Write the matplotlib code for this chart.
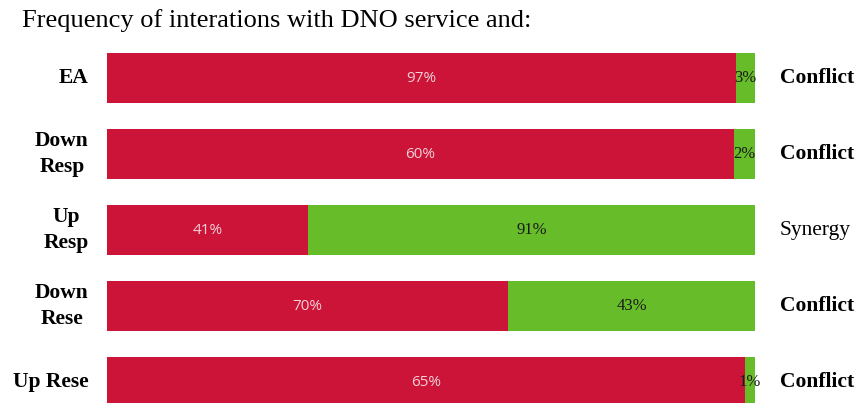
import matplotlib.pyplot as plt
import numpy as np

# interaction shares for each service vs the DNO service
services = ['EA', 'Down\nResp', 'Up\nResp', 'Down\nRese', 'Up Rese']
conflict = [97, 60, 41, 70, 65]
synergy = [3, 2, 91, 43, 1]
outcome = ['Conflict', 'Conflict', 'Synergy', 'Conflict', 'Conflict']

red = '#CC1439'
green = '#67BC2A'
serif = ['Liberation Serif', 'DejaVu Serif']
sans = ['Open Sans', 'DejaVu Sans']

fig = plt.figure(figsize=(8.57, 4.03), dpi=100)
ax = fig.add_axes([107 / 857, 0, 648 / 857, 363 / 403])

c = np.array(conflict, dtype=float)
s = np.array(synergy, dtype=float)
total = c + s
# bars are stretched to full width, labels keep the raw values
c_frac = c / total
s_frac = s / total
y = np.arange(len(services))

ax.barh(y, c_frac, height=0.66, color=red)
ax.barh(y, s_frac, left=c_frac, height=0.66, color=green)

for i in range(len(services)):
    ax.text(c_frac[i] / 2, y[i], '%d%%' % conflict[i], ha='center', va='center',
            color='#F2D0D6', fontsize=11, family=sans)
    ax.text(c_frac[i] + s_frac[i] / 2, y[i], '%d%%' % synergy[i], ha='center', va='center',
            color='#1a1a1a', fontsize=12, family=serif)
    weight = 'bold' if outcome[i] == 'Conflict' else 'normal'
    ax.text(1.038, y[i], outcome[i], ha='left', va='center', fontsize=15.5,
            fontweight=weight, family=serif, transform=ax.get_yaxis_transform())
    ax.text(-0.028, y[i], services[i], ha='right', va='center', multialignment='center',
            fontsize=15.5, fontweight='bold', family=serif, linespacing=1.35,
            transform=ax.get_yaxis_transform())

ax.set_xlim(0, 1)
ax.set_ylim(4.276, -0.5)
ax.axis('off')

fig.text(22 / 857, 1 - 21 / 403, 'Frequency of interations with DNO service and:',
         ha='left', va='center', fontsize=19, family=serif)

fig.savefig('out.png', dpi=100)
